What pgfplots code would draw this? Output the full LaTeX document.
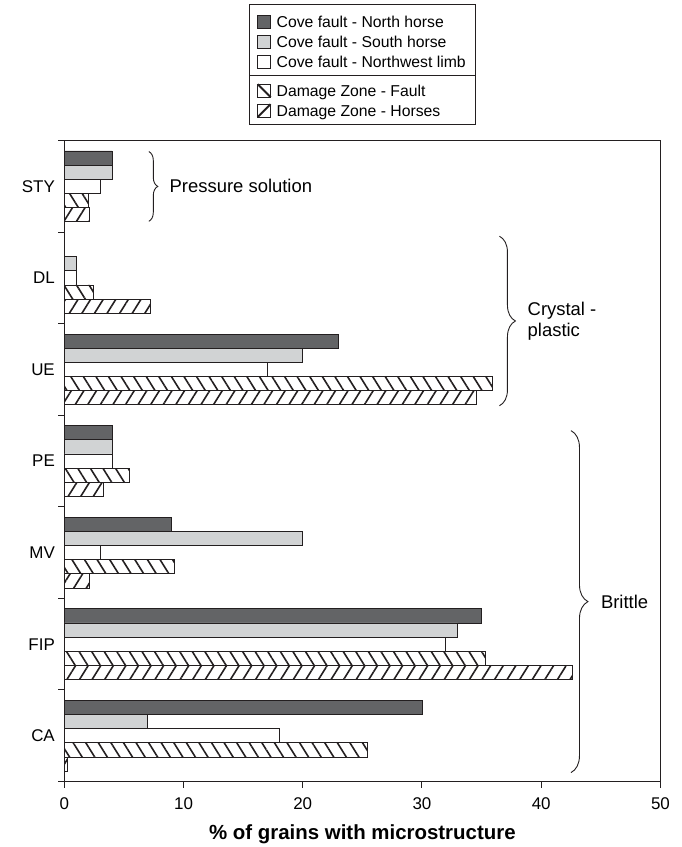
\documentclass[border=0pt]{standalone}
\usepackage{fontspec}
\setmainfont{Liberation Sans}
\usepackage{pgfplots}
\usepackage{pgfplotstable}
\pgfplotsset{compat=1.18}
\usetikzlibrary{patterns.meta,decorations.pathreplacing}

\definecolor{northc}{HTML}{636466}
\definecolor{southc}{HTML}{D1D3D4}
\definecolor{framec}{HTML}{231F20}

\tikzset{
  faulthatch/.style={pattern={Lines[angle=-58,distance=10.7bp,line width=1.6bp]},pattern color=framec},
  horsehatch/.style={pattern={Lines[angle=58,distance=10.7bp,line width=1.6bp]},pattern color=framec},
}

% Percentage of grains showing each microstructure.
% pos: vertical slot of the category (STY on top, CA at the bottom)
\pgfplotstableread{
pos cat north south nwlimb fault horses
6   STY 4     4     3      2     2.1
5   DL  nan   1     1      2.4   7.2
4   UE  23    20    17     35.9  34.6
3   PE  4     4     4      5.5   3.3
2   MV  9     20    3      9.2   2.1
1   FIP 35    33    32     35.3  42.6
0   CA  30    7     18     25.4  0.3
}\grains

\begin{document}
\begin{tikzpicture}
\begin{axis}[
  scale only axis, width=598bp, height=643bp,
  xbar, bar width=0.1546,
  xmin=0, xmax=50, ymin=-0.5, ymax=6.5,
  enlargelimits=false,
  xtick={0,10,...,50},
  ytick={-0.5,0.5,...,6.5},
  y tick label as interval,
  yticklabels={CA,FIP,MV,PE,UE,DL,STY},
  xtick pos=bottom, ytick pos=left,
  tick align=outside,
  major tick length=6bp,
  tick style={line width=1bp, color=framec},
  axis line style={line width=1bp, color=framec},
  /pgf/number format/assume math mode=true,
  ticklabel style={font=\fontsize{17bp}{20bp}\selectfont},
  xticklabel style={yshift=-7bp},
  xlabel={\textbf{\% of grains with microstructure}},
  xlabel style={font=\fontsize{20.5bp}{24bp}\selectfont,
    at={(axis description cs:0.5,0)}, anchor=base, yshift=-58bp},
  clip=false,
  every axis plot/.append style={draw=framec, line width=0.8bp},
]
\addplot[fill=northc, bar shift=0.3092]  table[x=north,  y=pos] {\grains};
\addplot[fill=southc, bar shift=0.1546]  table[x=south,  y=pos] {\grains};
\addplot[fill=white,  bar shift=0]       table[x=nwlimb, y=pos] {\grains};
\addplot[faulthatch,  bar shift=-0.1546] table[x=fault,  y=pos] {\grains};
\addplot[horsehatch,  bar shift=-0.3092] table[x=horses, y=pos] {\grains};

% grouping braces
\draw[framec, line width=0.9bp, decorate, decoration={brace, amplitude=9bp}]
  (axis cs:7.09,6.38) -- (axis cs:7.09,5.618);
\draw[framec, line width=0.9bp, decorate, decoration={brace, amplitude=16bp}]
  (axis cs:36.5,5.455) -- (axis cs:36.5,3.604);
\draw[framec, line width=0.9bp, decorate, decoration={brace, amplitude=17bp}]
  (axis cs:42.5,3.332) -- (axis cs:42.5,-0.402);
\node[anchor=west, inner sep=0pt, font=\fontsize{18.5bp}{22bp}\selectfont]
  at (axis cs:8.82,6) {Pressure solution};
\node[anchor=west, inner sep=0pt, align=left, font=\fontsize{18.5bp}{21bp}\selectfont]
  at (axis cs:38.85,4.53) {Crystal -\\plastic};
\node[anchor=west, inner sep=0pt, font=\fontsize{18.5bp}{22bp}\selectfont]
  at (axis cs:45.0,1.46) {Brittle};

\coordinate (legtop) at ([yshift=136bp]axis description cs:0.5,1);
% page extent
\path ([xshift=-64.5bp,yshift=-63bp]axis description cs:0,0)
  rectangle ([xshift=21.5bp,yshift=141bp]axis description cs:1,1);
\end{axis}

% legend
\begin{scope}[shift={(legtop)}, x=1bp, y=1bp, line width=1bp, framec]
  \draw (-113.5,0) rectangle (113.5,-120);
  \draw (-113.5,-71) -- (113.5,-71);
  \filldraw[draw=framec, line width=0.6bp, fill=northc] (-105,-23.5) rectangle (-92,-10.5);
  \filldraw[draw=framec, line width=0.6bp, fill=southc] (-105,-43.5) rectangle (-92,-30.5);
  \draw[line width=0.8bp] (-105,-63.5) rectangle (-92,-50.5);
  \draw[line width=0.8bp] (-105,-92.5) rectangle (-92,-79.5);
  \draw[line width=2bp] (-105,-79.5) -- (-92,-92.5);
  \draw[line width=0.8bp] (-105,-112.5) rectangle (-92,-99.5);
  \draw[line width=2bp] (-105,-112.5) -- (-92,-99.5);
  \begin{scope}[every node/.style={anchor=base west, inner sep=0pt, text=black,
      font=\fontsize{15.8bp}{19bp}\selectfont}]
    \node at (-86.5,-22.5) {Cove fault - North horse};
    \node at (-86.5,-42.5) {Cove fault - South horse};
    \node at (-86.5,-62.5) {Cove fault - Northwest limb};
    \node at (-86.5,-91.5) {Damage Zone - Fault};
    \node at (-86.5,-111.5) {Damage Zone - Horses};
  \end{scope}
\end{scope}
\end{tikzpicture}
\end{document}
